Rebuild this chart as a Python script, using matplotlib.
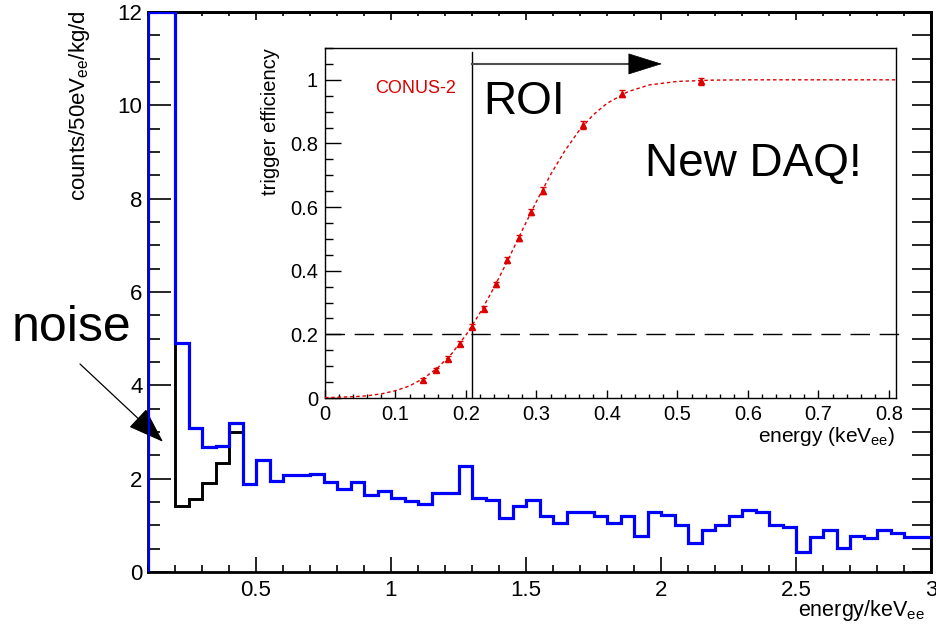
import numpy as np
import matplotlib
matplotlib.use("Agg")
import matplotlib.pyplot as plt
from matplotlib.ticker import MultipleLocator, FuncFormatter

# ---------------- data ----------------
bin_lo = 0.10
bin_hi = 3.00
bin_width = 0.05

# first two bins are off-scale (clipped at the frame top, 12)
blue_counts = [12.0, 12.0, 4.91, 3.08, 2.67, 2.71, 3.19, 1.88, 2.41, 1.94,
               2.07, 2.07, 2.11, 1.93, 1.77, 1.92, 1.64, 1.73, 1.58, 1.52,
               1.45, 1.70, 1.70, 2.27, 1.58, 1.54, 1.15, 1.42, 1.55, 1.19,
               1.06, 1.29, 1.29, 1.19, 1.04, 1.21, 0.77, 1.28, 1.22, 1.00,
               0.62, 0.91, 1.00, 1.20, 1.32, 1.28, 1.00, 0.97, 0.42, 0.75,
               0.90, 0.51, 0.77, 0.73, 0.89, 0.84, 0.76, 0.76]

black_counts = [12.0, 12.0, 1.41, 1.56, 1.90, 2.33, 3.01, 1.88, 2.41, 1.94,
                2.07, 2.07, 2.11, 1.93, 1.77, 1.92, 1.64, 1.73, 1.58, 1.52,
                1.45, 1.70, 1.70, 2.27, 1.58, 1.54, 1.15, 1.42, 1.55, 1.19,
                1.06, 1.29, 1.29, 1.19, 1.04, 1.21, 0.77, 1.28, 1.22, 1.00,
                0.62, 0.91, 1.00, 1.20, 1.32, 1.28, 1.00, 0.97, 0.42, 0.75,
                0.90, 0.51, 0.77, 0.73, 0.89, 0.84, 0.76, 0.76]

eff_energy = [0.139, 0.157, 0.174, 0.191, 0.208, 0.225, 0.242, 0.258,
              0.275, 0.292, 0.309, 0.366, 0.421, 0.533]
eff_value = [0.056, 0.088, 0.124, 0.171, 0.224, 0.281, 0.357, 0.433,
             0.504, 0.584, 0.652, 0.858, 0.957, 0.995]
eff_error = [0.006, 0.006, 0.007, 0.007, 0.008, 0.008, 0.008, 0.009,
             0.009, 0.010, 0.010, 0.012, 0.012, 0.010]

fit_energy = [0.00, 0.04, 0.06, 0.08, 0.10, 0.12, 0.14, 0.16, 0.18, 0.20,
              0.22, 0.24, 0.26, 0.28, 0.30, 0.32, 0.34, 0.36, 0.38, 0.40,
              0.43, 0.46, 0.50, 0.55, 0.60, 0.81]
fit_value = [0.001, 0.004, 0.007, 0.013, 0.023, 0.038, 0.062, 0.095, 0.140, 0.198,
             0.268, 0.348, 0.436, 0.528, 0.618, 0.702, 0.776, 0.839, 0.889, 0.926,
             0.963, 0.984, 0.995, 0.999, 1.000, 1.000]

roi_threshold = 0.208
eff_level = 0.2

main_xticks = [0.5, 1.0, 1.5, 2.0, 2.5, 3.0]
main_xticklabels = ["0.5", "1", "1.5", "2", "2.5", "3"]

# ---------------- style ----------------
plt.rcParams['font.family'] = ['Liberation Sans', 'DejaVu Sans']
plt.rcParams['mathtext.fontset'] = 'custom'
plt.rcParams['mathtext.rm'] = 'Liberation Sans'
plt.rcParams['mathtext.it'] = 'Liberation Sans:italic'
plt.rcParams['mathtext.bf'] = 'Liberation Sans:bold'

W, H = 937, 631
fig = plt.figure(figsize=(W / 100, H / 100), dpi=100)

def fx(px):
    return px / W

def fy(py):
    return (H - py) / H

def short_fmt(v, p):
    if abs(v) < 1e-9:
        return '0'
    return f'{v:.1f}'.rstrip('0').rstrip('.')

# ---------------- main axes ----------------
L, R, T, B = 148, 931, 12, 572
ax = fig.add_axes([fx(L), fy(B), (R - L) / W, (B - T) / H])
edges = np.round(np.arange(bin_lo, bin_hi + bin_width / 2, bin_width), 3)

ax.stairs(black_counts, edges, baseline=None, color='black', lw=2.1, zorder=3)
ax.plot([edges[0], edges[0]], [0, black_counts[0]], color='black', lw=2.1, zorder=3)
ax.stairs(blue_counts, edges, baseline=None, color='#0000ff', lw=2.3, zorder=4)
ax.plot([edges[0], edges[0]], [0, blue_counts[0]], color='#0000ff', lw=2.3, zorder=4)

ax.set_xlim(bin_lo, bin_hi)
ax.set_ylim(0, 12)
ax.set_xticks(main_xticks)
ax.set_xticklabels(main_xticklabels)
ax.xaxis.set_minor_locator(MultipleLocator(0.1))
ax.yaxis.set_major_locator(MultipleLocator(2))
ax.yaxis.set_minor_locator(MultipleLocator(0.5))
ax.tick_params(axis='x', which='major', direction='in', length=10.5, width=1.2, labelsize=16, pad=6)
ax.tick_params(axis='x', which='minor', direction='in', length=5, width=1.2)
ax.tick_params(axis='y', which='major', direction='in', length=16.5, width=1.2, labelsize=16, pad=4)
ax.tick_params(axis='y', which='minor', direction='in', length=8.5, width=1.2)
for s in ax.spines.values():
    s.set_linewidth(2)

secx = ax.secondary_xaxis('top')
secx.xaxis.set_major_locator(MultipleLocator(0.5))
secx.xaxis.set_minor_locator(MultipleLocator(0.1))
secx.tick_params(which='major', direction='in', length=6, width=1.2, labeltop=False)
secx.tick_params(which='minor', direction='in', length=3, width=1.2)
secx.spines['top'].set_linewidth(2)

secy = ax.secondary_yaxis('right')
secy.yaxis.set_major_locator(MultipleLocator(2))
secy.yaxis.set_minor_locator(MultipleLocator(0.5))
secy.tick_params(which='both', direction='in', length=14, width=1.2, labelright=False)
secy.spines['right'].set_linewidth(2)

fig.text(fx(925), fy(616), r'energy/keV$_{\mathrm{ee}}$', ha='right', va='baseline', fontsize=15.5)
fig.text(fx(80), fy(10), r'counts/50eV$_{\mathrm{ee}}$/kg/d', rotation=90,
         ha='center', va='top', fontsize=16)

# noise annotation
fig.text(fx(12), fy(341), 'noise', fontsize=36, ha='left', va='baseline')
ax.annotate('', xy=(0.1556, 2.79), xycoords='data',
            xytext=(80, H - 364), textcoords='figure pixels',
            annotation_clip=False,
            arrowprops=dict(arrowstyle='-|>,head_length=23,head_width=8',
                            mutation_scale=1, shrinkA=0, shrinkB=0,
                            color='black', lw=0.9))

# ---------------- inset ----------------
iL, iR, iT, iB = 325, 896, 48, 398
ax2 = fig.add_axes([fx(iL), fy(iB), (iR - iL) / W, (iB - iT) / H])
ax2.set_facecolor('white')
ax2.set_zorder(5)
ax2.set_xlim(0, 0.81)
ax2.set_ylim(0, 1.1)
ax2.xaxis.set_major_locator(MultipleLocator(0.1))
ax2.xaxis.set_minor_locator(MultipleLocator(0.02))
ax2.yaxis.set_major_locator(MultipleLocator(0.2))
ax2.yaxis.set_minor_locator(MultipleLocator(0.05))
ax2.xaxis.set_major_formatter(FuncFormatter(short_fmt))
ax2.yaxis.set_major_formatter(FuncFormatter(short_fmt))
ax2.tick_params(axis='x', which='major', direction='in', length=6, width=1, labelsize=14.5, pad=5)
ax2.tick_params(axis='x', which='minor', direction='in', length=3, width=1)
ax2.tick_params(axis='y', which='major', direction='in', length=11.5, width=1, labelsize=14.5, pad=5)
ax2.tick_params(axis='y', which='minor', direction='in', length=5.8, width=1)
for s in ax2.spines.values():
    s.set_linewidth(1)

red = '#dd0000'
ax2.plot(fit_energy, fit_value, color=red, lw=1, ls=(0, (2.5, 2)), zorder=3)
ax2.errorbar(eff_energy, eff_value, yerr=eff_error, fmt='^', color=red,
             ms=4.5, capsize=2, elinewidth=1, zorder=4)

ax2.plot([0, 0.82], [eff_level, eff_level], color='black', lw=1,
         ls=(0, (14, 7)), clip_on=False, zorder=2)
ax2.plot([roi_threshold, roi_threshold], [0, 1.088], color='black', lw=1, zorder=2)
ax2.plot([roi_threshold, 0.44], [1.05, 1.05], color='0.3', lw=1.5, zorder=2)
ax2.annotate('', xy=(0.478, 1.05), xytext=(0.43, 1.05),
             arrowprops=dict(arrowstyle='-|>,head_length=23,head_width=7.2',
                             mutation_scale=1, shrinkA=0, shrinkB=0,
                             color='black', lw=0.5))

ax2.text(0.071, 0.972, 'CONUS-2', color=red, fontsize=13, ha='left', va='center')
ax2.text(0.224, 0.893, 'ROI', fontsize=33, ha='left', va='baseline')
ax2.text(0.454, 0.699, 'New DAQ!', fontsize=33, ha='left', va='baseline')

fig.text(fx(895), fy(442), r'energy (keV$_{\mathrm{ee}}$)', ha='right', va='baseline', fontsize=15)
fig.text(fx(270), fy(48), 'trigger efficiency', rotation=90, ha='center', va='top', fontsize=14.5)

fig.savefig('out.png', dpi=100)
